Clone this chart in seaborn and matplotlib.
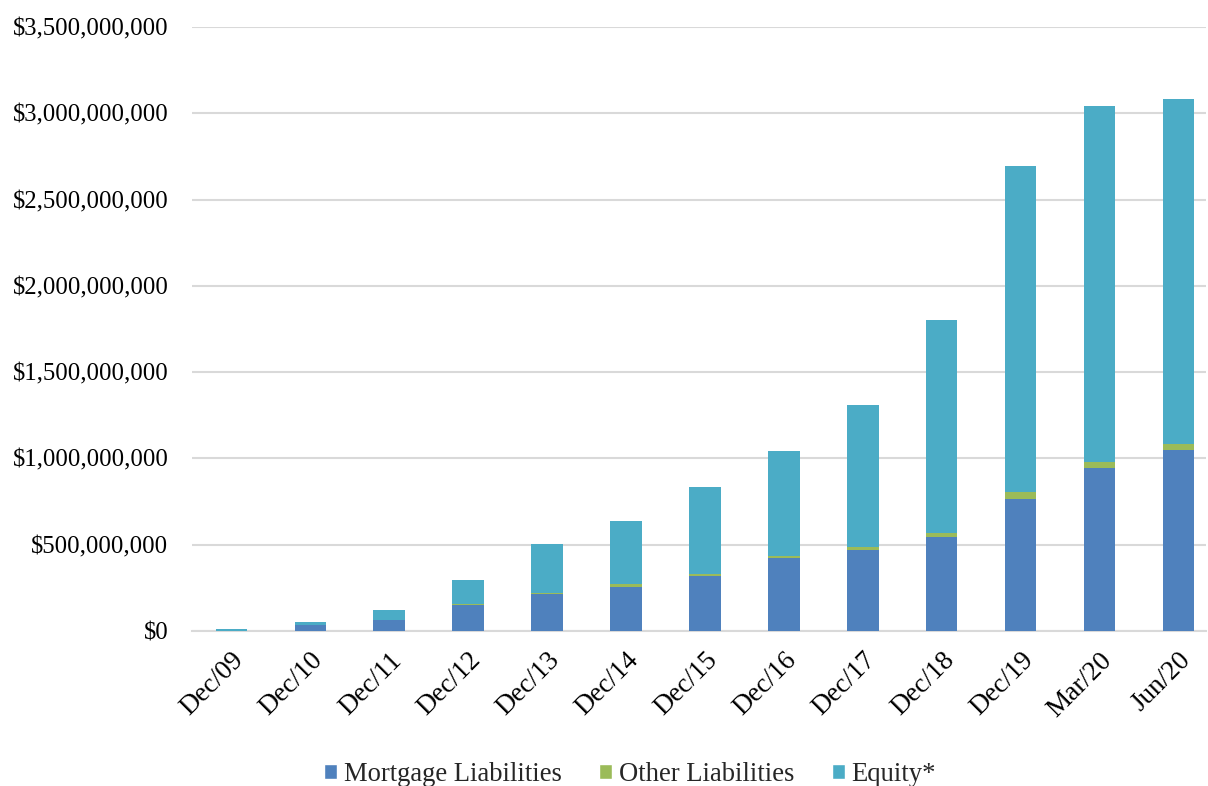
import seaborn as sns
import matplotlib.pyplot as plt
import pandas as pd
from matplotlib.patches import Patch
from matplotlib.ticker import FuncFormatter

# values in millions of dollars
periods = ['Dec/09', 'Dec/10', 'Dec/11', 'Dec/12', 'Dec/13', 'Dec/14', 'Dec/15',
           'Dec/16', 'Dec/17', 'Dec/18', 'Dec/19', 'Mar/20', 'Jun/20']
mortgage = [0, 33, 62, 149, 213, 257, 319, 423, 471, 547, 765, 946, 1049]
other = [0, 0, 1, 10, 6, 14, 13, 13, 14, 19, 42, 33, 35]
equity = [10, 21, 61, 139, 285, 365, 504, 605, 826, 1234, 1889, 2063, 2001]

series = ['Mortgage Liabilities', 'Other Liabilities', 'Equity*']
colors = ['#4F81BD', '#9BBB59', '#4BACC6']

df = pd.DataFrame({'period': periods,
                   'mortgage': [m * 1e6 for m in mortgage],
                   'other': [o * 1e6 for o in other],
                   'equity': [e * 1e6 for e in equity]})
# cumulative heights so the layers can be drawn on top of each other
df['lvl1'] = df['mortgage']
df['lvl2'] = df['mortgage'] + df['other']
df['lvl3'] = df['lvl2'] + df['equity']

sns.set_style('white')
plt.rcParams['font.family'] = ['Liberation Serif', 'DejaVu Serif']

fig = plt.figure(figsize=(12.08, 7.86), dpi=100)
ax = fig.add_axes([192 / 1208, 1 - 631 / 786, 1014 / 1208, 604 / 786])

for col, c in zip(['lvl3', 'lvl2', 'lvl1'], colors[::-1]):
    sns.barplot(data=df, x='period', y=col, color=c, width=0.4,
                linewidth=0, saturation=1, ax=ax, zorder=3)

ax.set_xlim(-0.5, 12.35)
ax.set_ylim(0, 3.5e9)
ax.set_yticks([i * 5e8 for i in range(8)])
ax.yaxis.set_major_formatter(FuncFormatter(lambda v, p: '${:,.0f}'.format(v)))
ax.set_xlabel('')
ax.set_ylabel('')
ax.grid(axis='y', color='#D9D9D9', linewidth=1.5)
ax.set_axisbelow(True)
for s in ['top', 'right', 'left']:
    ax.spines[s].set_visible(False)
ax.spines['bottom'].set_color('#D9D9D9')
ax.spines['bottom'].set_linewidth(1.5)
ax.spines['bottom'].set_zorder(1)
ax.tick_params(axis='both', length=0, colors='#000000')
ax.tick_params(axis='y', pad=17, labelsize=17.8)
ax.tick_params(axis='x', pad=12, labelsize=19.5)
plt.setp(ax.get_xticklabels(), rotation=45, ha='right', rotation_mode='anchor')

handles = [Patch(facecolor=c, label=s) for c, s in zip(colors, series)]
fig.legend(handles=handles, loc='center', bbox_to_anchor=(0.5215, 0.015), ncol=3,
           frameon=False, fontsize=19.2, handlelength=0.5, handleheight=0.5,
           handletextpad=0.25, columnspacing=1.4)

fig.savefig('out.png', dpi=100)
